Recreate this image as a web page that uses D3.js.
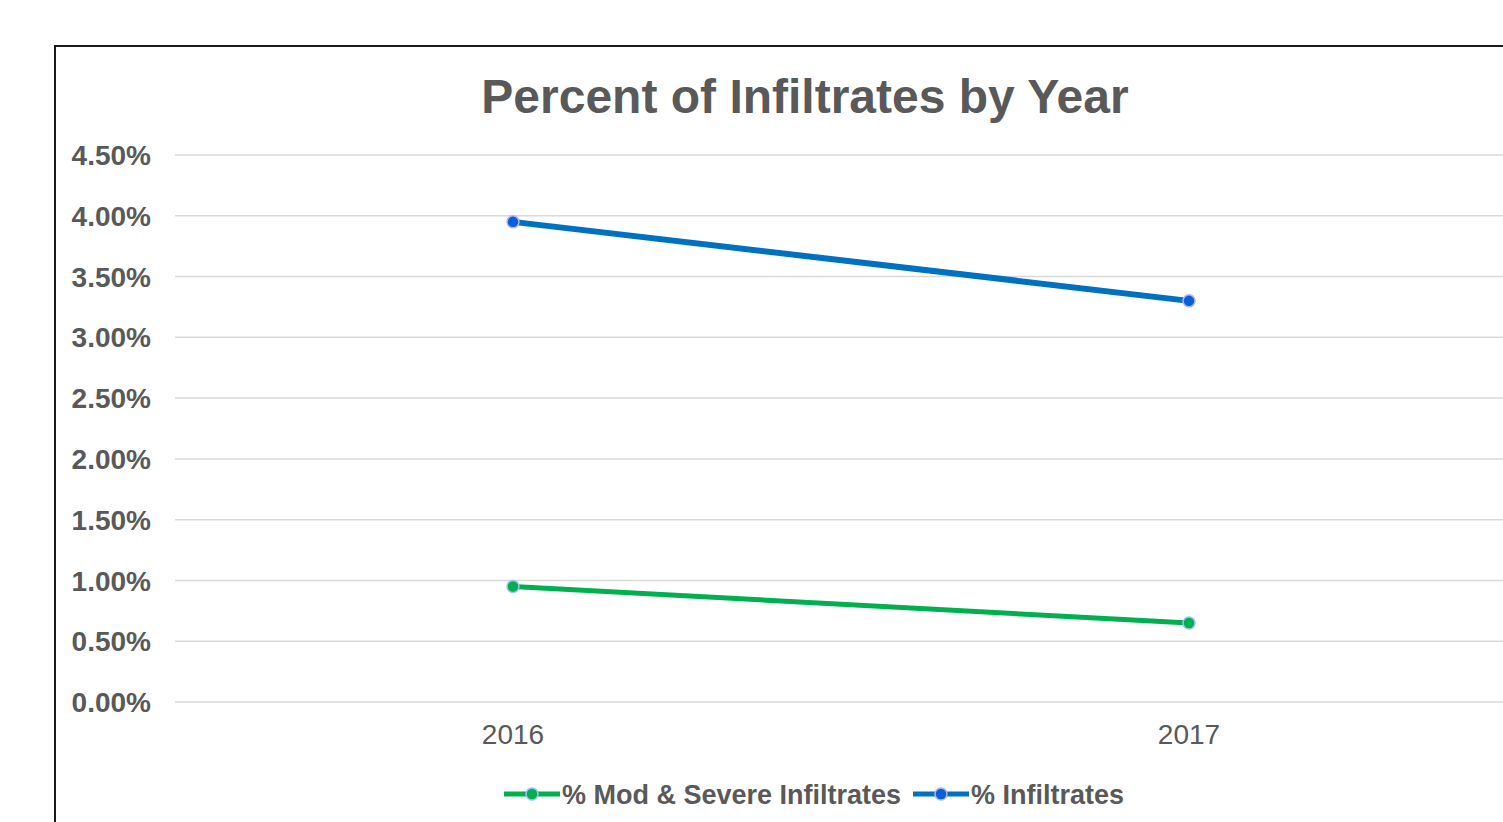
<!DOCTYPE html>
<head>
  <meta charset="utf-8">
  <title>Percent of Infiltrates by Year</title>
</head>
<style>
  body { margin: 0; background: #fff; }
  svg { display: block; font-family: "Liberation Sans", Arial, sans-serif; }
  .grid line { stroke: #d9d9d9; stroke-width: 1.5; }
  .ytick text { font-size: 28px; font-weight: bold; fill: #595959; }
  .xtick text { font-size: 28px; fill: #595959; }
  .legend text { font-size: 27px; font-weight: bold; fill: #595959; }
</style>
<svg width="1503" height="822"></svg>
<script src="https://d3js.org/d3.v7.min.js"></script>
<script>
  var years = ["2016", "2017"];
  var modSevere = [0.0095, 0.0065];
  var infiltrates = [0.0395, 0.033];
  var yTicks = [0, 0.005, 0.01, 0.015, 0.02, 0.025, 0.03, 0.035, 0.04, 0.045];
  var seriesNames = ["% Mod & Severe Infiltrates", "% Infiltrates"];

  var series = [
    { name: seriesNames[0], values: modSevere, line: "#00b050", width: 5, dot: "#00b050", ring: "#9dc3f5" },
    { name: seriesNames[1], values: infiltrates, line: "#0070c0", width: 6, dot: "#0a5fd8", ring: "#b4b4ee" }
  ];

  var svg = d3.select("svg");

  // chart frame
  svg.append("rect")
    .attr("x", 55).attr("y", 46)
    .attr("width", 1500).attr("height", 820)
    .attr("fill", "none").attr("stroke", "#1a1a1a").attr("stroke-width", 2);

  svg.append("text")
    .attr("x", 805).attr("y", 113)
    .attr("text-anchor", "middle")
    .style("font-size", "48px").style("font-weight", "bold").style("fill", "#595959")
    .text("Percent of Infiltrates by Year");

  var x = d3.scaleBand().domain(years).range([175, 1527]);
  var y = d3.scaleLinear().domain([0, 0.045]).range([702, 155]);

  var grid = svg.append("g").attr("class", "grid");
  grid.selectAll("line")
    .data(yTicks)
    .enter().append("line")
    .attr("x1", 175).attr("x2", 1503)
    .attr("y1", function (d) { return y(d); })
    .attr("y2", function (d) { return y(d); });

  var fmt = d3.format(".2%");
  svg.append("g").attr("class", "ytick")
    .selectAll("text")
    .data(yTicks)
    .enter().append("text")
    .attr("x", 151)
    .attr("y", function (d) { return y(d); })
    .attr("dy", "0.36em")
    .attr("text-anchor", "end")
    .text(function (d) { return fmt(d); });

  svg.append("g").attr("class", "xtick")
    .selectAll("text")
    .data(years)
    .enter().append("text")
    .attr("x", function (d) { return x(d) + x.bandwidth() / 2; })
    .attr("y", 744)
    .attr("text-anchor", "middle")
    .text(function (d) { return d; });

  var line = d3.line()
    .x(function (d, i) { return x(years[i]) + x.bandwidth() / 2; })
    .y(function (d) { return y(d); });

  series.forEach(function (s) {
    svg.append("path")
      .datum(s.values)
      .attr("d", line)
      .attr("fill", "none")
      .attr("stroke", s.line)
      .attr("stroke-width", s.width);

    svg.selectAll(null)
      .data(s.values)
      .enter().append("circle")
      .attr("cx", function (d, i) { return x(years[i]) + x.bandwidth() / 2; })
      .attr("cy", function (d) { return y(d); })
      .attr("r", 6)
      .attr("fill", s.dot)
      .attr("stroke", s.ring)
      .attr("stroke-width", 1.5);
  });

  // legend
  var legend = svg.append("g").attr("class", "legend");
  var lx = [504, 913];
  series.forEach(function (s, i) {
    var g = legend.append("g").attr("transform", "translate(" + lx[i] + ",794)");
    g.append("line")
      .attr("x1", 0).attr("x2", 56)
      .attr("stroke", s.line).attr("stroke-width", 5);
    g.append("circle")
      .attr("cx", 28).attr("r", 6)
      .attr("fill", s.dot).attr("stroke", s.ring).attr("stroke-width", 1.5);
    g.append("text")
      .attr("x", 58).attr("dy", "0.36em")
      .text(s.name);
  });
</script>
